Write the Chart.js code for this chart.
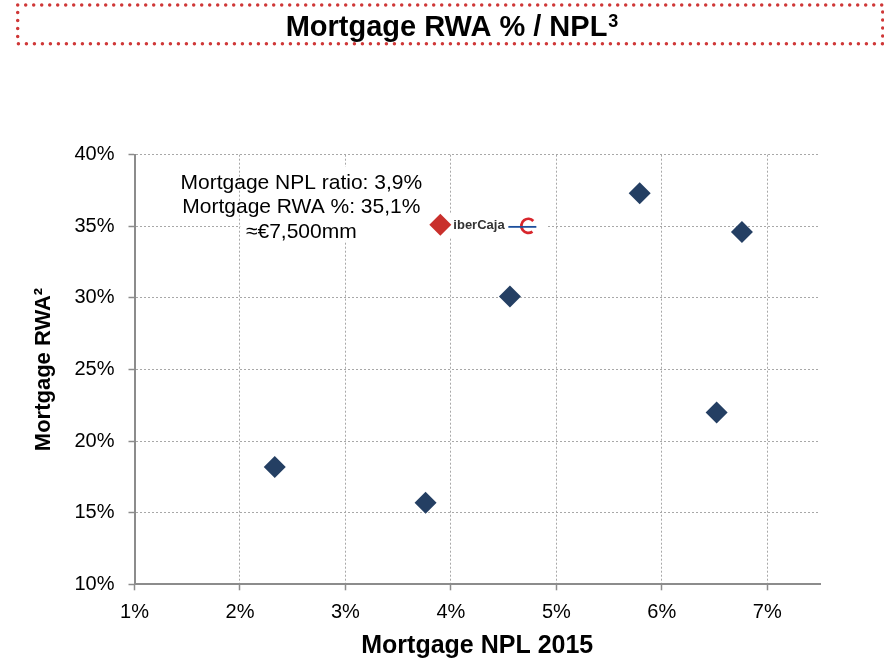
<!DOCTYPE html>
<html>
<head>
<meta charset="utf-8">
<title>Mortgage RWA % / NPL</title>
<script src="https://cdn.jsdelivr.net/npm/chart.js@4.4.1/dist/chart.umd.min.js"></script>
<style>
  html, body { margin: 0; padding: 0; background: #fff; }
  #rwaChart { display: block; }
</style>
</head>
<body>
<canvas id="rwaChart" width="884" height="661"></canvas>
<script>
// peer banks: mortgage NPL 2015 (%) and mortgage RWA density (%)
const peerNpl = [2.33, 3.76, 4.56, 5.79, 6.76, 6.52];
const peerRwa = [18.2, 15.7, 30.1, 37.3, 34.6, 22.0];

// Ibercaja
const iberNpl = [3.9];
const iberRwa = [35.1];
const iberNotes = ['Mortgage NPL ratio: 3,9%', 'Mortgage RWA %: 35,1%', '≈€7,500mm'];

const titleText = 'Mortgage RWA % / NPL';
const titleSup = '3';
const xTitle = 'Mortgage NPL 2015';
const yTitle = 'Mortgage RWA²';

const FONT = '"Liberation Sans", Arial, sans-serif';
const NAVY = '#243f63';
const RED = '#c9302c';
const AXIS = '#8c8c8c';
const GRID = '#a8a8a8';

// red dotted frame + heading at the top
const titleFrame = {
  id: 'titleFrame',
  afterDraw(chart) {
    const ctx = chart.ctx;
    ctx.save();
    ctx.strokeStyle = '#cf3838';
    ctx.lineWidth = 3.5;
    ctx.lineCap = 'round';
    ctx.setLineDash([0, 8]);
    ctx.strokeRect(17.7, 5, 865, 38.7);
    ctx.setLineDash([]);

    ctx.fillStyle = '#000';
    ctx.textAlign = 'left';
    ctx.textBaseline = 'alphabetic';
    ctx.font = 'bold 29px ' + FONT;
    const w1 = ctx.measureText(titleText).width;
    ctx.font = 'bold 18px ' + FONT;
    const w2 = ctx.measureText(titleSup).width;
    const x0 = 452 - (w1 + w2 + 1) / 2;
    ctx.font = 'bold 29px ' + FONT;
    ctx.fillText(titleText, x0, 36);
    ctx.font = 'bold 18px ' + FONT;
    ctx.fillText(titleSup, x0 + w1 + 1, 27);
    ctx.restore();
  }
};

// note and logo next to the Ibercaja point
const iberLabel = {
  id: 'iberLabel',
  beforeDatasetsDraw(chart) {
    const pt = chart.getDatasetMeta(1).data[0];
    const ctx = chart.ctx;
    ctx.save();
    ctx.fillStyle = '#fff';
    ctx.fillRect(pt.x - 200, pt.y - 58, 192, 74);
    ctx.fillRect(pt.x + 8, pt.y - 12, 98, 25);
    ctx.restore();
  },
  afterDatasetsDraw(chart) {
    const pt = chart.getDatasetMeta(1).data[0];
    const ctx = chart.ctx;
    ctx.save();
    ctx.fillStyle = '#000';
    ctx.textAlign = 'center';
    ctx.textBaseline = 'middle';
    ctx.font = '21px ' + FONT;
    const offs = [-42, -18, 7];
    iberNotes.forEach((t, i) => ctx.fillText(t, pt.x - 139, pt.y + offs[i]));

    ctx.textAlign = 'left';
    ctx.fillStyle = '#333';
    ctx.font = 'bold 13px ' + FONT;
    ctx.fillText('iberCaja', pt.x + 13, pt.y + 1);

    // little logo: blue bar through a red "C"
    ctx.strokeStyle = '#d8262c';
    ctx.lineWidth = 2.8;
    ctx.beginPath();
    ctx.arc(pt.x + 88, pt.y + 1, 7, 0.3 * Math.PI, 1.75 * Math.PI);
    ctx.stroke();
    ctx.strokeStyle = '#1c4f9c';
    ctx.lineWidth = 1.8;
    ctx.beginPath();
    ctx.moveTo(pt.x + 68, pt.y + 2);
    ctx.lineTo(pt.x + 96, pt.y + 2);
    ctx.stroke();
    ctx.restore();
  }
};

const diamond = (color) => ({
  pointStyle: 'rectRot',
  pointRadius: 11,
  pointHoverRadius: 11,
  backgroundColor: color,
  borderColor: color,
  borderWidth: 0
});

new Chart(document.getElementById('rwaChart'), {
  type: 'scatter',
  data: {
    datasets: [
      Object.assign({ label: 'Peers', data: peerNpl.map((x, i) => ({ x: x, y: peerRwa[i] })) }, diamond(NAVY)),
      Object.assign({ label: 'Ibercaja', data: iberNpl.map((x, i) => ({ x: x, y: iberRwa[i] })) }, diamond(RED))
    ]
  },
  options: {
    responsive: false,
    devicePixelRatio: 1,
    animation: false,
    layout: { padding: { top: 154.7, right: 64, bottom: 0, left: 0 } },
    plugins: {
      legend: { display: false },
      tooltip: { enabled: false }
    },
    scales: {
      x: {
        type: 'linear',
        min: 1,
        max: 7.5,
        afterBuildTicks: (s) => { s.ticks = s.ticks.filter(t => Number.isInteger(t.value)); },
        afterFit: (s) => { s.height = 76.7; },
        ticks: {
          stepSize: 1,
          maxRotation: 0,
          padding: 10,
          color: '#000',
          font: { family: FONT, size: 20 },
          callback: (v) => v + '%'
        },
        grid: { color: GRID, lineWidth: 1, tickLength: 6, tickColor: AXIS, tickWidth: 1.5 },
        border: { color: AXIS, width: 2, dash: [2, 2] },
        title: {
          display: true,
          text: xTitle,
          color: '#000',
          font: { family: FONT, size: 25, weight: 'bold' },
          padding: { top: 0, bottom: 0 }
        }
      },
      y: {
        type: 'linear',
        min: 10,
        max: 40,
        afterFit: (s) => { s.width = 134.5; },
        ticks: {
          stepSize: 5,
          padding: 14,
          color: '#000',
          font: { family: FONT, size: 20 },
          callback: (v) => v + '%'
        },
        grid: { color: GRID, lineWidth: 1, tickLength: 6, tickColor: AXIS, tickWidth: 1.5 },
        border: { color: AXIS, width: 2, dash: [2, 2] },
        title: {
          display: true,
          text: yTitle,
          color: '#000',
          font: { family: FONT, size: 22, weight: 'bold' },
          padding: { top: 31, bottom: 0 }
        }
      }
    }
  },
  plugins: [titleFrame, iberLabel]
});
</script>
</body>
</html>
